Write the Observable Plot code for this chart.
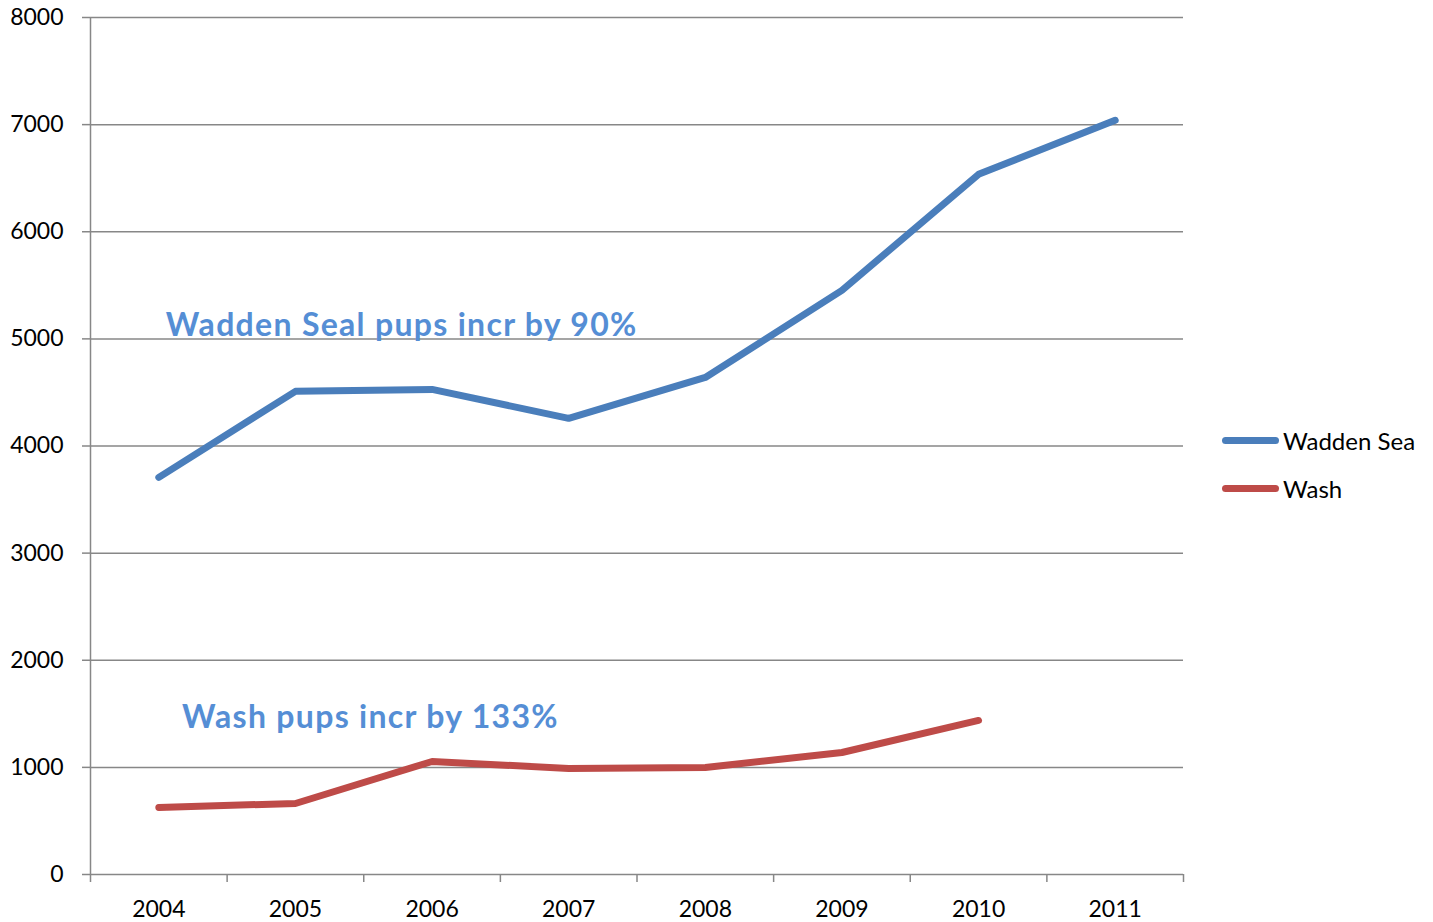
<!DOCTYPE html>
<html>
<head>
<meta charset="utf-8">
<script src="https://cdn.jsdelivr.net/npm/d3@7"></script>
<script src="https://cdn.jsdelivr.net/npm/@observablehq/plot@0.6"></script>
<style>
  html, body { margin: 0; padding: 0; background: #fff; }
  #wrap { position: relative; width: 1433px; height: 922px; font-family: Lato, sans-serif; }
  #legend { position: absolute; left: 1222px; top: 416px; font-size: 24px; color: #000; }
  .item { display: flex; align-items: center; height: 48px; }
  .swatch { width: 57px; height: 7px; border-radius: 4px; margin-right: 4px; }
  .note { letter-spacing: 1.3px; }
</style>
</head>
<body>
<div id="wrap"><div id="legend"></div></div>
<script>
const years = [2004, 2005, 2006, 2007, 2008, 2009, 2010, 2011];
const waddenSea = [3707, 4510, 4528, 4258, 4640, 5453, 6536, 7040];
const wash = [626, 663, 1055, 990, 999, 1139, 1438];
const seriesNames = ["Wadden Sea", "Wash"];
const seriesColors = ["#4a7ebb", "#be4b48"];
const yTicks = [0, 1000, 2000, 3000, 4000, 5000, 6000, 7000, 8000];
const annotationTexts = ["Wadden Seal pups incr by 90%", "Wash pups incr by 133%"];
const annotationYears = [2004.05, 2004.17];
const annotationValues = [5031, 1363];

const rows = [
  ...waddenSea.map((v, i) => ({year: years[i], value: v, series: seriesNames[0]})),
  ...wash.map((v, i) => ({year: years[i], value: v, series: seriesNames[1]}))
];
const notes = annotationTexts.map((t, i) => ({text: t, year: annotationYears[i], value: annotationValues[i]}));
const bounds = [...years.map(y => y - 0.5), years[years.length - 1] + 0.5];
const grid = "#878787";

const chart = Plot.plot({
  width: 1433,
  height: 922,
  marginLeft: 90,
  marginRight: 250,
  marginTop: 17,
  marginBottom: 48,
  style: {fontFamily: "Lato, sans-serif", fontSize: "23px", color: "#000", background: "#fff"},
  x: {domain: [bounds[0], bounds[bounds.length - 1]]},
  y: {domain: [0, 8000]},
  color: {domain: seriesNames, range: seriesColors},
  marks: [
    Plot.ruleY(yTicks, {x1: bounds[0], x2: bounds[bounds.length - 1], stroke: grid, strokeWidth: 1.5}),
    Plot.ruleX([bounds[0]], {y1: 0, y2: 8000, stroke: grid, strokeWidth: 1.5}),
    Plot.axisY({ticks: yTicks, tickSize: 8, tickPadding: 19, stroke: grid, strokeWidth: 1.5, fill: "#000", label: null, tickFormat: d => String(d)}),
    Plot.axisX({ticks: bounds, tickSize: 8, stroke: grid, strokeWidth: 1.5, tickFormat: () => "", label: null}),
    Plot.axisX({ticks: years, tickSize: 0, tickPadding: 26, fill: "#000", tickFormat: d => String(d), label: null}),
    Plot.line(rows, {x: "year", y: "value", z: "series", stroke: "series", strokeWidth: 7, strokeLinecap: "round", strokeLinejoin: "round"}),
    Plot.text(notes, {x: "year", y: "value", text: "text", textAnchor: "start", lineAnchor: "bottom", fill: "#558ed5", fontWeight: "bold", fontSize: 32, className: "note"})
  ]
});
document.getElementById("wrap").prepend(chart);

const legend = document.getElementById("legend");
seriesNames.forEach((n, i) => {
  const item = document.createElement("div");
  item.className = "item";
  const sw = document.createElement("div");
  sw.className = "swatch";
  sw.style.background = seriesColors[i];
  const lab = document.createElement("span");
  lab.textContent = n;
  item.append(sw, lab);
  legend.append(item);
});
</script>
</body>
</html>
